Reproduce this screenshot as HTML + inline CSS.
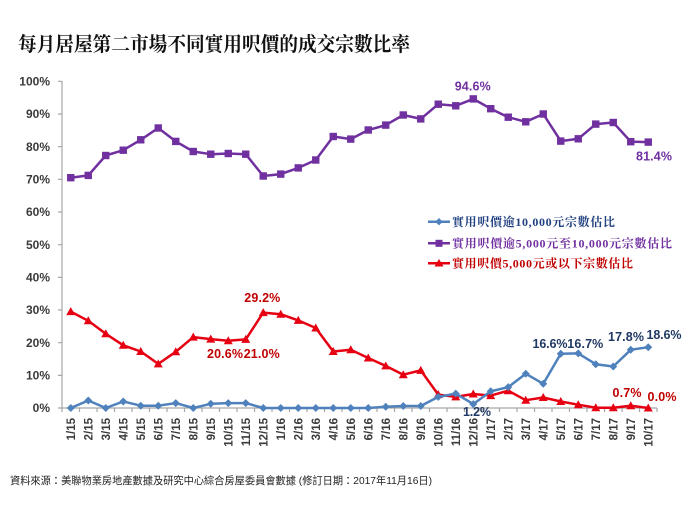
<!DOCTYPE html>
<html><head><meta charset="utf-8"><style>
html,body{margin:0;padding:0;background:#fff;}
svg{display:block;}
</style></head><body>
<svg width="700" height="525" viewBox="0 0 700 525" xmlns="http://www.w3.org/2000/svg">
<defs>
<marker id="sq" markerUnits="userSpaceOnUse" markerWidth="10" markerHeight="10" refX="5" refY="5" viewBox="0 0 10 10"><rect x="1.3" y="1.3" width="7.4" height="7.4" fill="#7030a0"/></marker>
<marker id="tri" markerUnits="userSpaceOnUse" markerWidth="12" markerHeight="12" refX="6" refY="6" viewBox="0 0 12 12"><polygon points="6,1.5 10.5,9.5 1.5,9.5" fill="#e60012"/></marker>
<marker id="dia" markerUnits="userSpaceOnUse" markerWidth="10" markerHeight="10" refX="5" refY="5" viewBox="0 0 10 10"><polygon points="5,1 9,5 5,9 1,5" fill="#4f81bd"/></marker>
</defs>
<rect width="700" height="525" fill="#fff"/>
<!-- title -->
<text x="18" y="51" font-family="'Liberation Serif','Noto Serif CJK SC',serif" font-weight="bold" font-size="20" fill="#111" textLength="392" lengthAdjust="spacingAndGlyphs">每月居屋第二市場不同實用呎價的成交宗數比率</text>

<!-- axes -->
<g stroke="#a6a6a6" stroke-width="1.2" fill="none">
<line x1="62" y1="81" x2="62" y2="408"/>
<line x1="62" y1="408" x2="657" y2="408"/>
<path d="M58 81.3H62M58 114H62M58 146.7H62M58 179.4H62M58 212H62M58 244.7H62M58 277.4H62M58 310H62M58 342.7H62M58 375.4H62M58 408H62"/>
<path d="M62 408V412M79.5 408V412M97 408V412M114.5 408V412M132 408V412M149.5 408V412M167 408V412M184.5 408V412M202 408V412M219.5 408V412M237 408V412M254.5 408V412M272 408V412M289.5 408V412M307 408V412M324.5 408V412M342 408V412M359.5 408V412M377 408V412M394.5 408V412M412 408V412M429.5 408V412M447 408V412M464.5 408V412M482 408V412M499.5 408V412M517 408V412M534.5 408V412M552 408V412M569.5 408V412M587 408V412M604.5 408V412M622 408V412M639.5 408V412M657 408V412"/>
</g>

<!-- y labels -->
<g font-family="'Liberation Sans',sans-serif" font-size="12" font-weight="bold" fill="#3a3a3a" text-anchor="end">
<text x="50" y="85.5">100%</text>
<text x="50" y="118.2">90%</text>
<text x="50" y="150.9">80%</text>
<text x="50" y="183.6">70%</text>
<text x="50" y="216.2">60%</text>
<text x="50" y="248.9">50%</text>
<text x="50" y="281.6">40%</text>
<text x="50" y="314.2">30%</text>
<text x="50" y="346.9">20%</text>
<text x="50" y="379.6">10%</text>
<text x="50" y="412.2">0%</text>
</g>

<!-- x labels -->
<g font-family="'Liberation Sans',sans-serif" font-size="11.5" font-weight="bold" fill="#3a3a3a" text-anchor="end">
<text transform="translate(74.75,418) rotate(-90)">1/15</text>
<text transform="translate(92.25,418) rotate(-90)">2/15</text>
<text transform="translate(109.75,418) rotate(-90)">3/15</text>
<text transform="translate(127.25,418) rotate(-90)">4/15</text>
<text transform="translate(144.75,418) rotate(-90)">5/15</text>
<text transform="translate(162.25,418) rotate(-90)">6/15</text>
<text transform="translate(179.75,418) rotate(-90)">7/15</text>
<text transform="translate(197.25,418) rotate(-90)">8/15</text>
<text transform="translate(214.75,418) rotate(-90)">9/15</text>
<text transform="translate(232.25,418) rotate(-90)">10/15</text>
<text transform="translate(249.75,418) rotate(-90)">11/15</text>
<text transform="translate(267.25,418) rotate(-90)">12/15</text>
<text transform="translate(284.75,418) rotate(-90)">1/16</text>
<text transform="translate(302.25,418) rotate(-90)">2/16</text>
<text transform="translate(319.75,418) rotate(-90)">3/16</text>
<text transform="translate(337.25,418) rotate(-90)">4/16</text>
<text transform="translate(354.75,418) rotate(-90)">5/16</text>
<text transform="translate(372.25,418) rotate(-90)">6/16</text>
<text transform="translate(389.75,418) rotate(-90)">7/16</text>
<text transform="translate(407.25,418) rotate(-90)">8/16</text>
<text transform="translate(424.75,418) rotate(-90)">9/16</text>
<text transform="translate(442.25,418) rotate(-90)">10/16</text>
<text transform="translate(459.75,418) rotate(-90)">11/16</text>
<text transform="translate(477.25,418) rotate(-90)">12/16</text>
<text transform="translate(494.75,418) rotate(-90)">1/17</text>
<text transform="translate(512.25,418) rotate(-90)">2/17</text>
<text transform="translate(529.75,418) rotate(-90)">3/17</text>
<text transform="translate(547.25,418) rotate(-90)">4/17</text>
<text transform="translate(564.75,418) rotate(-90)">5/17</text>
<text transform="translate(582.25,418) rotate(-90)">6/17</text>
<text transform="translate(599.75,418) rotate(-90)">7/17</text>
<text transform="translate(617.25,418) rotate(-90)">8/17</text>
<text transform="translate(634.75,418) rotate(-90)">9/17</text>
<text transform="translate(652.25,418) rotate(-90)">10/17</text>
</g>

<!-- series -->
<polyline fill="none" stroke="#7030a0" stroke-width="2.5" stroke-linejoin="round" marker-start="url(#sq)" marker-mid="url(#sq)" marker-end="url(#sq)" points="70.75,177.7 88.25,175.4 105.75,155.5 123.25,150.2 140.75,139.8 158.25,128.0 175.75,141.4 193.25,151.5 210.75,154.2 228.25,153.5 245.75,154.2 263.25,176.0 280.75,174.1 298.25,167.9 315.75,160.0 333.25,136.5 350.75,139.1 368.25,130.0 385.75,125.1 403.25,115.0 420.75,118.9 438.25,104.2 455.75,105.8 473.25,98.9 490.75,108.7 508.25,117.2 525.75,121.8 543.25,114.0 560.75,141.1 578.25,138.8 595.75,124.1 613.25,122.5 630.75,141.7 648.25,142.1"/>

<polyline fill="none" stroke="#e60012" stroke-width="2.5" stroke-linejoin="round" marker-start="url(#tri)" marker-mid="url(#tri)" marker-end="url(#tri)" points="70.75,311.6 88.25,320.8 105.75,333.8 123.25,345.3 140.75,351.5 158.25,363.9 175.75,351.8 193.25,337.1 210.75,339.1 228.25,340.7 245.75,339.4 263.25,312.6 280.75,314.2 298.25,320.4 315.75,328.0 333.25,351.5 350.75,349.8 368.25,358.0 385.75,365.9 403.25,374.7 420.75,370.4 438.25,394.6 455.75,396.9 473.25,394.0 490.75,395.6 508.25,390.7 525.75,400.2 543.25,397.5 560.75,401.5 578.25,404.7 595.75,407.7 613.25,407.7 630.75,405.7 648.25,408"/>

<polyline fill="none" stroke="#4f81bd" stroke-width="2.5" stroke-linejoin="round" marker-start="url(#dia)" marker-mid="url(#dia)" marker-end="url(#dia)" points="70.75,408 88.25,400.5 105.75,408 123.25,401.5 140.75,405.7 158.25,405.7 175.75,403.1 193.25,408 210.75,403.8 228.25,403.1 245.75,403.1 263.25,408 280.75,408 298.25,408 315.75,408 333.25,408 350.75,408 368.25,408 385.75,406.7 403.25,406.0 420.75,406.0 438.25,396.9 455.75,393.6 473.25,404.1 490.75,391.3 508.25,387.1 525.75,373.7 543.25,383.8 560.75,353.8 578.25,353.4 595.75,364.2 613.25,366.5 630.75,349.8 648.25,347.2"/>

<!-- data labels -->
<g font-family="'Liberation Sans',sans-serif" font-size="12.5" font-weight="bold" text-anchor="middle" lengthAdjust="spacingAndGlyphs">
<text x="472.7" y="90.5" fill="#7030a0" textLength="36">94.6%</text>
<text x="654" y="160.5" fill="#7030a0" textLength="36">81.4%</text>
<text x="262.3" y="302" fill="#c00000" textLength="36">29.2%</text>
<text x="225" y="358" fill="#c00000" textLength="36">20.6%</text>
<text x="261.7" y="358" fill="#c00000" textLength="36">21.0%</text>
<text x="550" y="348" fill="#1f3864" textLength="35">16.6%</text>
<text x="585.3" y="348" fill="#1f3864" textLength="36">16.7%</text>
<text x="626" y="341" fill="#1f3864" textLength="36">17.8%</text>
<text x="664" y="339" fill="#1f3864" textLength="35">18.6%</text>
<text x="477" y="416" fill="#1f3864" textLength="28">1.2%</text>
<text x="627" y="397" fill="#c00000" textLength="29">0.7%</text>
<text x="662" y="401" fill="#c00000" textLength="29">0.0%</text>
</g>

<!-- legend -->
<line x1="428" y1="221.7" x2="450" y2="221.7" stroke="#4f81bd" stroke-width="2.5"/>
<polygon points="439,218 442.7,221.7 439,225.4 435.3,221.7" fill="#4f81bd"/>
<line x1="428" y1="243.3" x2="450" y2="243.3" stroke="#7030a0" stroke-width="2.5"/>
<rect x="435.5" y="239.8" width="7" height="7" fill="#7030a0"/>
<line x1="428" y1="263.3" x2="450" y2="263.3" stroke="#e60012" stroke-width="2.5"/>
<polygon points="439,259 443.5,266.5 434.5,266.5" fill="#e60012"/>
<g font-family="'Liberation Serif','Noto Serif CJK SC',serif" font-weight="bold" font-size="12" lengthAdjust="spacingAndGlyphs">
<text x="452" y="226" fill="#1f3f7f" textLength="163">實用呎價逾10,000元宗數估比</text>
<text x="452" y="247.6" fill="#7030a0" textLength="220">實用呎價逾5,000元至10,000元宗數估比</text>
<text x="452" y="267.6" fill="#c00000" textLength="181">實用呎價5,000元或以下宗數估比</text>
</g>

<!-- source -->
<text x="10" y="484" font-family="'Liberation Sans','Noto Sans CJK TC',sans-serif" font-size="10.5" fill="#222" textLength="422" lengthAdjust="spacingAndGlyphs">資料來源：美聯物業房地產數據及研究中心綜合房屋委員會數據 (修訂日期：2017年11月16日)</text>
</svg>
</body></html>
